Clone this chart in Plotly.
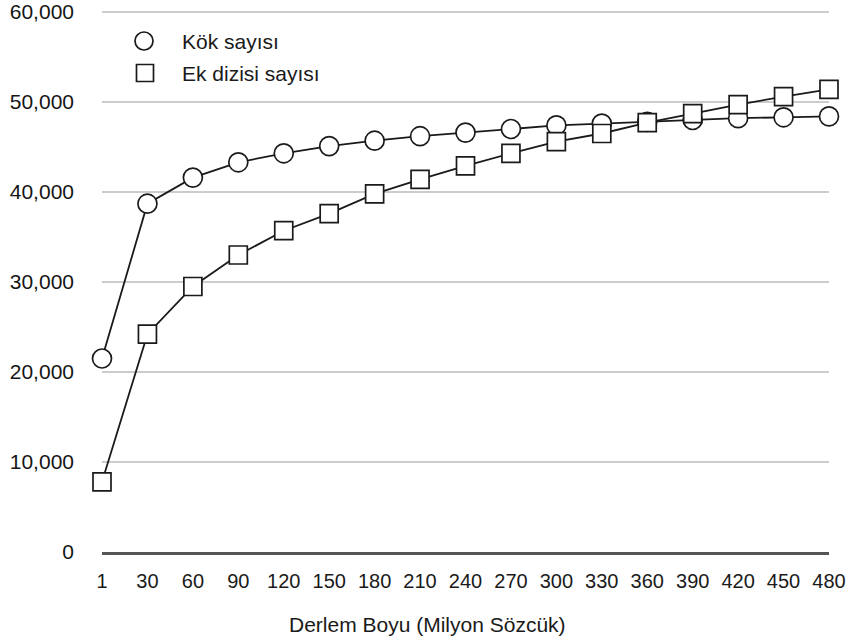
import plotly.graph_objects as go

categories = ["1", "30", "60", "90", "120", "150", "180", "210", "240",
              "270", "300", "330", "360", "390", "420", "450", "480"]
kok_sayisi = [21500, 38700, 41600, 43300, 44300, 45100, 45700, 46200, 46600,
              47000, 47400, 47600, 47800, 48000, 48200, 48300, 48400]
ek_dizisi_sayisi = [7800, 24200, 29500, 33000, 35700, 37600, 39800, 41400, 42900,
                    44300, 45600, 46500, 47700, 48700, 49700, 50600, 51400]
y_ticks = [0, 10000, 20000, 30000, 40000, 50000, 60000]
y_tick_labels = ["0", "10,000", "20,000", "30,000", "40,000", "50,000", "60,000"]
series_names = ["Kök sayısı", "Ek dizisi sayısı"]
x_title = "Derlem Boyu (Milyon Sözcük)"

FONT = "Liberation Sans, Arial, Helvetica, sans-serif"
W, H = 851, 644
# plot area in page pixels: left 102, right 829, top 8 (60,000 grid at 12), bottom 552
L, T = 102, 8
R = W - 829
B = H - 552
PW, PH = W - L - R, H - T - B
Y_TOP = 60000 * PH / (552 - 12)
INK = "#1a1a1a"


def px_x(px):
    return (px - L) / PW


def px_y(py):
    return (H - B - py) / PH


fig = go.Figure()

for vals, sym, size in [(kok_sayisi, "circle", 19), (ek_dizisi_sayisi, "square", 18)]:
    fig.add_trace(go.Scatter(
        x=categories, y=vals, mode="lines+markers",
        line=dict(color=INK, width=1.8),
        marker=dict(symbol=sym, size=size, color="white",
                    line=dict(color=INK, width=1.7)),
        showlegend=False, cliponaxis=False,
    ))

# legend drawn as shapes + text
shapes = [
    dict(type="circle", xref="paper", yref="paper", xsizemode="pixel", ysizemode="pixel",
         xanchor=px_x(144), yanchor=px_y(41), x0=-9, x1=9, y0=-9, y1=9,
         line=dict(color=INK, width=1.7), fillcolor="white"),
    dict(type="rect", xref="paper", yref="paper", xsizemode="pixel", ysizemode="pixel",
         xanchor=px_x(145), yanchor=px_y(73), x0=-8.5, x1=8.5, y0=-8.5, y1=8.5,
         line=dict(color=INK, width=1.7), fillcolor="white"),
]
annotations = [
    dict(text=series_names[0], xref="paper", yref="paper", x=px_x(180), y=px_y(41),
         xanchor="left", yanchor="middle", showarrow=False,
         font=dict(size=21, family=FONT, color=INK)),
    dict(text=series_names[1], xref="paper", yref="paper", x=px_x(180), y=px_y(73),
         xanchor="left", yanchor="middle", showarrow=False,
         font=dict(size=21, family=FONT, color=INK)),
    dict(text=x_title, xref="paper", yref="paper", x=px_x(427), y=px_y(624),
         xanchor="center", yanchor="middle", showarrow=False,
         font=dict(size=21, family=FONT, color=INK)),
]

fig.update_layout(
    width=W, height=H,
    margin=dict(l=L, r=R, t=T, b=B),
    paper_bgcolor="white", plot_bgcolor="white",
    font=dict(family=FONT, color=INK),
    showlegend=False,
    xaxis=dict(type="category", range=[0, 16], showgrid=False, automargin=False,
               showline=True, linecolor="#555555", linewidth=3,
               ticks="", tickfont=dict(size=20, family=FONT, color=INK),
               ticklabelstandoff=9, zeroline=False, fixedrange=True),
    yaxis=dict(range=[0, Y_TOP], tickvals=y_ticks, ticktext=y_tick_labels,
               showgrid=True, gridcolor="#cccccc", gridwidth=1.5, automargin=False,
               zeroline=False, showline=False, ticks="",
               tickfont=dict(size=21, family=FONT, color="#151515"),
               ticklabelstandoff=27, fixedrange=True),
    shapes=shapes,
    annotations=annotations,
)

fig.write_html("out.html", config={"displayModeBar": False, "staticPlot": True},
               post_script="document.body.style.margin='0';document.body.style.overflow='hidden';")
